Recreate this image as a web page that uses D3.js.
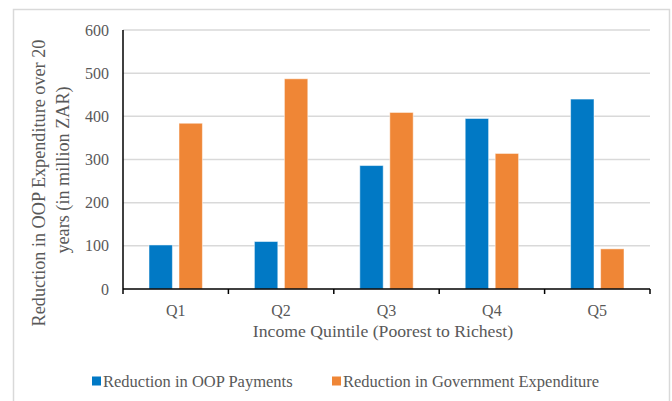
<!DOCTYPE html>
<html>
<head>
<meta charset="utf-8">
<script src="https://cdn.jsdelivr.net/npm/d3@7"></script>
<style>
body { margin: 0; background: #fff; }
text { font-family: "Liberation Serif", "Times New Roman", serif; fill: #595959; }
</style>
</head>
<body>
<svg id="chart" width="672" height="401"></svg>
<script>
// data
var quintiles = ["Q1", "Q2", "Q3", "Q4", "Q5"];
var oopPayments = [102, 110, 286, 395, 440];
var govExpenditure = [384, 487, 409, 314, 93];
var seriesNames = ["Reduction in OOP Payments", "Reduction in Government Expenditure"];
var seriesColors = ["#0179c5", "#ef8636"];
var yTicks = [0, 100, 200, 300, 400, 500, 600];

(function() {
var svg = d3.select("#chart");

// outer frame
svg.append("rect")
    .attr("x", 13.5).attr("y", 9.5)
    .attr("width", 656).attr("height", 420)
    .attr("fill", "none")
    .attr("stroke", "#d9d9d9")
    .attr("stroke-width", 1.5);

var m = { left: 123, right: 650, top: 30, bottom: 289 };

var x = d3.scaleBand().domain(quintiles).range([m.left, m.right]);
var y = d3.scaleLinear().domain([0, 600]).range([m.bottom, m.top]);

// gridlines
svg.append("g").selectAll("line")
    .data(yTicks.filter(function(d) { return d > 0; }))
    .enter().append("line")
    .attr("x1", m.left).attr("x2", m.right)
    .attr("y1", function(d) { return y(d); })
    .attr("y2", function(d) { return y(d); })
    .attr("stroke", "#d9d9d9")
    .attr("stroke-width", 1.5);

// y tick labels
svg.append("g").selectAll("text")
    .data(yTicks)
    .enter().append("text")
    .attr("x", m.left - 14)
    .attr("y", function(d) { return y(d); })
    .attr("dy", "0.35em")
    .attr("text-anchor", "end")
    .attr("font-size", "16px")
    .text(function(d) { return d; });

// bars
var bw = x.bandwidth() * 0.222, gap = 6.6;
var rows = quintiles.map(function(q, i) { return { q: q, v: [oopPayments[i], govExpenditure[i]] }; });

var grp = svg.append("g").selectAll("g")
    .data(rows)
    .enter().append("g");

grp.selectAll("rect")
    .data(function(d) { return d.v.map(function(v, s) { return { q: d.q, v: v, s: s }; }); })
    .enter().append("rect")
    .attr("x", function(d) {
        var c = x(d.q) + x.bandwidth() / 2;
        return d.s === 0 ? c - gap / 2 - bw : c + gap / 2;
    })
    .attr("y", function(d) { return y(d.v); })
    .attr("width", bw)
    .attr("height", function(d) { return m.bottom - y(d.v); })
    .attr("fill", function(d) { return seriesColors[d.s]; })
    .attr("stroke", "#fff")
    .attr("stroke-opacity", 0.5)
    .attr("stroke-width", 1);

// y axis line
svg.append("line")
    .attr("x1", m.left).attr("x2", m.left)
    .attr("y1", m.top).attr("y2", m.bottom)
    .attr("stroke", "#000").attr("stroke-width", 1.5);

// x axis
var xAxis = svg.append("g")
    .attr("transform", "translate(0," + m.bottom + ")");
xAxis.append("line")
    .attr("x1", m.left).attr("x2", m.right)
    .attr("stroke", "#000").attr("stroke-width", 1.5);
var edges = quintiles.map(function(q) { return x(q); }).concat([m.right]);
xAxis.selectAll("line.tick")
    .data(edges)
    .enter().append("line")
    .attr("class", "tick")
    .attr("x1", function(d) { return d; })
    .attr("x2", function(d) { return d; })
    .attr("y1", 0).attr("y2", 5)
    .attr("stroke", "#000").attr("stroke-width", 1.5);
xAxis.selectAll("text")
    .data(quintiles)
    .enter().append("text")
    .attr("x", function(d) { return x(d) + x.bandwidth() / 2; })
    .attr("y", 21)
    .attr("dy", "0.35em")
    .attr("text-anchor", "middle")
    .attr("font-size", "16px")
    .text(function(d) { return d; });

// axis titles
svg.append("text")
    .attr("x", 383)
    .attr("y", 331)
    .attr("dy", "0.35em")
    .attr("text-anchor", "middle")
    .attr("font-size", "17.7px")
    .text("Income Quintile (Poorest to Richest)");

var yTitle = svg.append("text")
    .attr("transform", "rotate(-90)")
    .attr("text-anchor", "middle")
    .attr("font-size", "18.2px");
yTitle.append("tspan").attr("x", -183).attr("y", 39).attr("dy", "0.35em").text("Reduction in OOP Expenditure over 20");
yTitle.append("tspan").attr("x", -170).attr("y", 63).attr("dy", "0.35em").text("years (in million ZAR)");

// legend
var legendX = [92, 332];
var lg = svg.append("g").selectAll("g")
    .data(seriesNames)
    .enter().append("g")
    .attr("transform", function(d, i) { return "translate(" + legendX[i] + ",381)"; });
lg.append("rect")
    .attr("x", 0).attr("y", -4.5)
    .attr("width", 9).attr("height", 9)
    .attr("fill", function(d, i) { return seriesColors[i]; });
lg.append("text")
    .attr("x", 11)
    .attr("y", 0)
    .attr("dy", "0.35em")
    .attr("font-size", "16.5px")
    .text(function(d) { return d; });
})();
</script>
</body>
</html>
